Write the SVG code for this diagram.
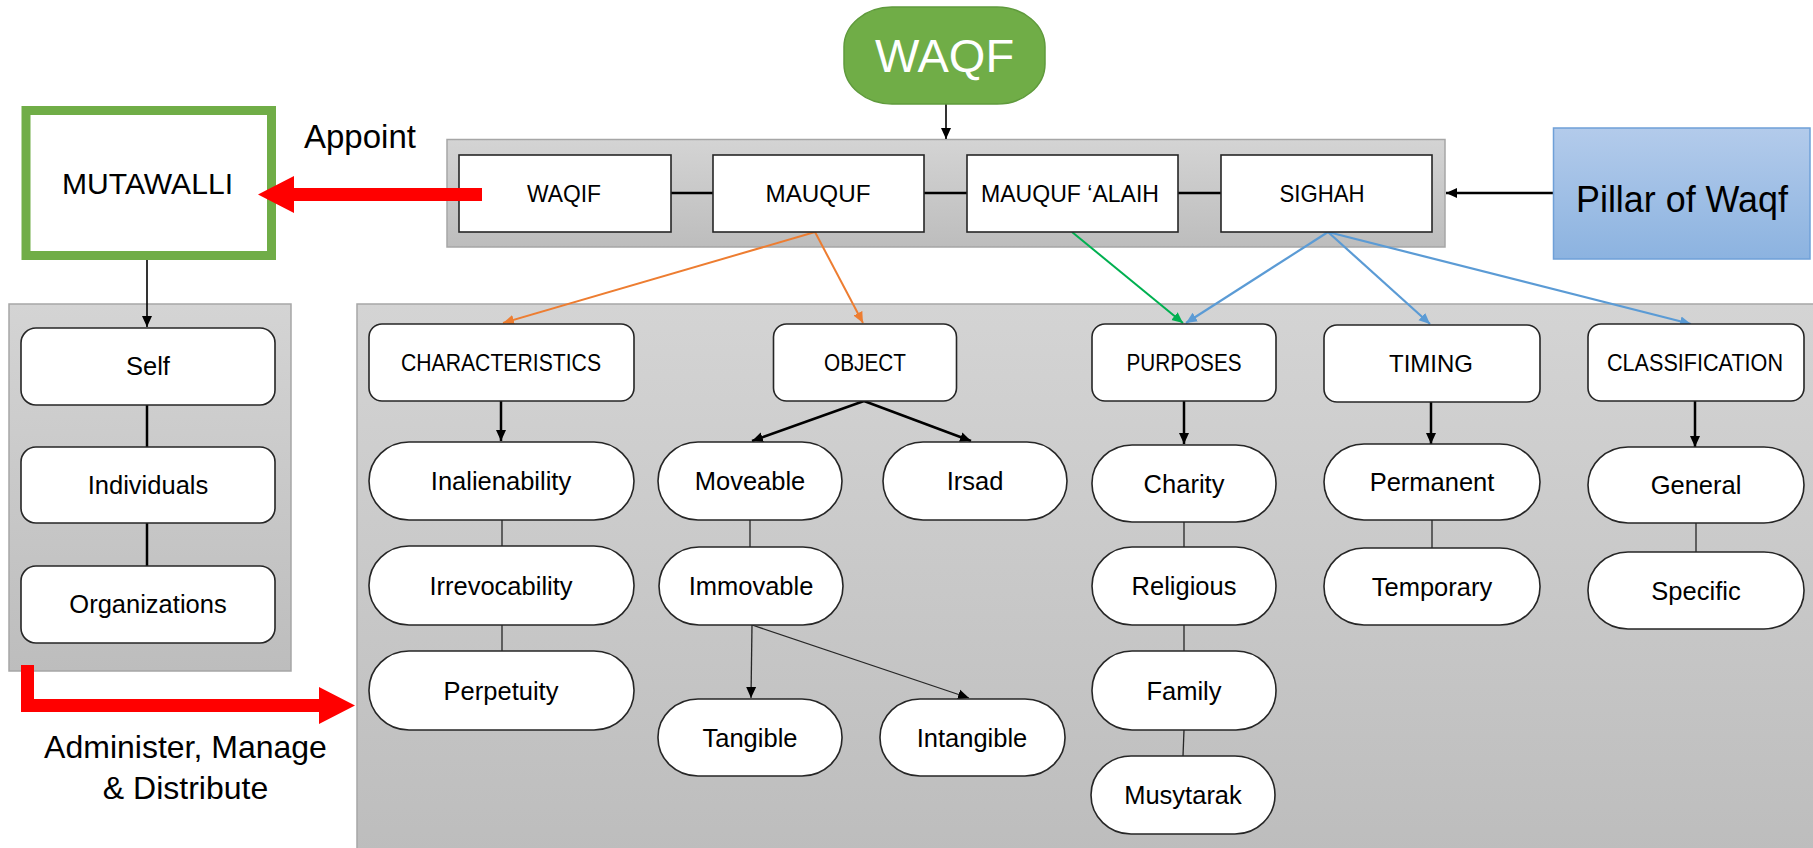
<svg xmlns="http://www.w3.org/2000/svg" width="1813" height="848" viewBox="0 0 1813 848">
<defs>
<linearGradient id="gray" x1="0" y1="0" x2="0" y2="1"><stop offset="0" stop-color="#d4d4d4"/><stop offset="1" stop-color="#bdbdbd"/></linearGradient>
<linearGradient id="blue" x1="0" y1="0" x2="0" y2="1"><stop offset="0" stop-color="#b3cbeb"/><stop offset="1" stop-color="#8cb3e0"/></linearGradient>
<marker id="ak" markerUnits="userSpaceOnUse" markerWidth="12" markerHeight="12" refX="11" refY="6" orient="auto"><path d="M0,1 L11,6 L0,11 z" fill="#000"/></marker>
<marker id="ao" markerUnits="userSpaceOnUse" markerWidth="12" markerHeight="12" refX="11" refY="6" orient="auto"><path d="M0,1 L11,6 L0,11 z" fill="#ed7d31"/></marker>
<marker id="ag" markerUnits="userSpaceOnUse" markerWidth="12" markerHeight="12" refX="11" refY="6" orient="auto"><path d="M0,1 L11,6 L0,11 z" fill="#00b050"/></marker>
<marker id="ab" markerUnits="userSpaceOnUse" markerWidth="12" markerHeight="12" refX="11" refY="6" orient="auto"><path d="M0,1 L11,6 L0,11 z" fill="#5b9bd5"/></marker>
</defs>
<style>
text{font-family:"Liberation Sans",Arial,sans-serif;fill:#000;text-anchor:middle}
.t{font-size:24px}
.n{font-size:25.5px}
.box{fill:#fff;stroke:#262626;stroke-width:1.6}
.pan{fill:url(#gray);stroke:#a6a6a6;stroke-width:1.5}
.thin{stroke:#262626;stroke-width:1.3;fill:none}
.mid{stroke:#000;stroke-width:2.5;fill:none}
.big{font-size:32px}
</style>

<rect id="panel-top" class="pan" x="447" y="139.5" width="998" height="107.5"/>
<rect id="panel-left" class="pan" x="9" y="304" width="282" height="367"/>
<rect id="panel-main" class="pan" x="357" y="304" width="1458" height="550"/>

<g id="connectors">
<line class="mid" x1="671" y1="193" x2="713" y2="193"/>
<line class="mid" x1="924" y1="193" x2="967" y2="193"/>
<line class="mid" x1="1178" y1="193" x2="1221" y2="193"/>
<line x1="946" y1="104" x2="946" y2="139" stroke="#000" stroke-width="1.6" marker-end="url(#ak)"/>
<line x1="1554" y1="193" x2="1446" y2="193" stroke="#000" stroke-width="2.5" marker-end="url(#ak)"/>
<line x1="147" y1="260" x2="147" y2="327" stroke="#000" stroke-width="1.6" marker-end="url(#ak)"/>
<line x1="815" y1="232" x2="503" y2="323" stroke="#ed7d31" stroke-width="2" marker-end="url(#ao)"/>
<line x1="815" y1="232" x2="863" y2="323" stroke="#ed7d31" stroke-width="2" marker-end="url(#ao)"/>
<line x1="1072" y1="232" x2="1183" y2="323" stroke="#00b050" stroke-width="2" marker-end="url(#ag)"/>
<line x1="1328" y1="232" x2="1186" y2="323" stroke="#5b9bd5" stroke-width="2.2" marker-end="url(#ab)"/>
<line x1="1328" y1="232" x2="1430" y2="324" stroke="#5b9bd5" stroke-width="2.2" marker-end="url(#ab)"/>
<line x1="1328" y1="232" x2="1691" y2="324" stroke="#5b9bd5" stroke-width="2.2" marker-end="url(#ab)"/>
<line class="mid" x1="147" y1="405" x2="147" y2="447"/>
<line class="mid" x1="147" y1="523" x2="147" y2="566"/>
<line x1="501" y1="401" x2="501" y2="441" stroke="#000" stroke-width="2.5" marker-end="url(#ak)"/>
<line x1="864" y1="401" x2="752" y2="441" stroke="#000" stroke-width="2.5" marker-end="url(#ak)"/>
<line x1="864" y1="401" x2="971" y2="441" stroke="#000" stroke-width="2.5" marker-end="url(#ak)"/>
<line x1="1184" y1="401" x2="1184" y2="444" stroke="#000" stroke-width="2.5" marker-end="url(#ak)"/>
<line x1="1431" y1="402" x2="1431" y2="444" stroke="#000" stroke-width="2.5" marker-end="url(#ak)"/>
<line x1="1695" y1="401" x2="1695" y2="447" stroke="#000" stroke-width="2.5" marker-end="url(#ak)"/>
<line class="thin" x1="502" y1="520" x2="502" y2="546"/>
<line class="thin" x1="502" y1="625" x2="502" y2="651"/>
<line class="thin" x1="750" y1="520" x2="750" y2="547"/>
<line class="thin" x1="1184" y1="522" x2="1184" y2="547"/>
<line class="thin" x1="1184" y1="625" x2="1184" y2="651"/>
<line class="thin" x1="1184" y1="730" x2="1183" y2="756"/>
<line class="thin" x1="1432" y1="520" x2="1432" y2="548"/>
<line class="thin" x1="1696" y1="523" x2="1696" y2="552"/>
<line class="thin" x1="752" y1="625" x2="751" y2="698" marker-end="url(#ak)"/>
<line class="thin" x1="752" y1="625" x2="969" y2="698" marker-end="url(#ak)"/>
</g>

<g id="waqf"><rect x="844" y="7" width="201" height="97" rx="48" ry="40" fill="#70ad47" stroke="#5f9a3c" stroke-width="1.5"/><text x="944.5" y="72" style="font-size:47px;fill:#fff">WAQF</text></g>
<g id="pillar"><rect x="1553.5" y="128" width="256.5" height="131" fill="url(#blue)" stroke="#6fa0d8" stroke-width="1.5"/><text x="1682" y="212" style="font-size:36px" textLength="212" lengthAdjust="spacingAndGlyphs">Pillar of Waqf</text></g>
<g id="mutawalli"><rect x="26" y="110.5" width="245.5" height="145" fill="#fff" stroke="#70ad47" stroke-width="9"/><text x="147.5" y="194" style="font-size:29.5px" textLength="171" lengthAdjust="spacingAndGlyphs">MUTAWALLI</text></g>

<g id="waqif"><rect class="box" x="459" y="155" width="212" height="77"/><text class="t" x="564" y="202" textLength="74" lengthAdjust="spacingAndGlyphs">WAQIF</text></g>
<g id="mauquf"><rect class="box" x="713" y="155" width="211" height="77"/><text class="t" x="818" y="202" textLength="105" lengthAdjust="spacingAndGlyphs">MAUQUF</text></g>
<g id="mauquf-alaih"><rect class="box" x="967" y="155" width="211" height="77"/><text class="t" x="1070" y="202" textLength="178" lengthAdjust="spacingAndGlyphs">MAUQUF ‘ALAIH</text></g>
<g id="sighah"><rect class="box" x="1221" y="155" width="211" height="77"/><text class="t" x="1322" y="202" textLength="85" lengthAdjust="spacingAndGlyphs">SIGHAH</text></g>

<g id="appoint-arrow"><polygon points="482,188 294,188 294,176 258,194.5 294,213 294,201 482,201" fill="#ff0000"/><text x="304" y="148" style="font-size:33px;text-anchor:start">Appoint</text></g>

<g id="self"><rect class="box" x="21" y="328" width="254" height="77" rx="15"/><text class="n" x="148" y="375">Self</text></g>
<g id="individuals"><rect class="box" x="21" y="447" width="254" height="76" rx="15"/><text class="n" x="148" y="494">Individuals</text></g>
<g id="organizations"><rect class="box" x="21" y="566" width="254" height="77" rx="15"/><text class="n" x="148" y="613">Organizations</text></g>

<g id="administer-arrow"><polygon points="21,665 34,665 34,699 319,699 319,687 355,705.5 319,724 319,712 21,712" fill="#ff0000"/><text class="big" x="185.5" y="758">Administer, Manage</text><text class="big" x="185.5" y="799">&amp; Distribute</text></g>

<g id="characteristics"><rect class="box" x="369" y="324" width="265" height="77" rx="13"/><text class="t" x="501" y="371" textLength="200" lengthAdjust="spacingAndGlyphs">CHARACTERISTICS</text></g>
<g id="object"><rect class="box" x="773.5" y="324" width="183" height="77" rx="13"/><text class="t" x="865" y="371" textLength="82" lengthAdjust="spacingAndGlyphs">OBJECT</text></g>
<g id="purposes"><rect class="box" x="1092" y="324" width="184" height="77" rx="13"/><text class="t" x="1184" y="371" textLength="115" lengthAdjust="spacingAndGlyphs">PURPOSES</text></g>
<g id="timing"><rect class="box" x="1324" y="325" width="216" height="77" rx="13"/><text class="t" x="1431" y="372" textLength="84" lengthAdjust="spacingAndGlyphs">TIMING</text></g>
<g id="classification"><rect class="box" x="1588" y="324" width="216" height="77" rx="13"/><text class="t" x="1695" y="371" textLength="176" lengthAdjust="spacingAndGlyphs">CLASSIFICATION</text></g>

<g id="inalienability"><rect class="box" x="369" y="442" width="265" height="78" rx="40" ry="39"/><text class="n" x="501" y="490">Inalienability</text></g>
<g id="irrevocability"><rect class="box" x="369" y="546" width="265" height="79" rx="40" ry="39"/><text class="n" x="501" y="595">Irrevocability</text></g>
<g id="perpetuity"><rect class="box" x="369" y="651" width="265" height="79" rx="40" ry="39"/><text class="n" x="501" y="700">Perpetuity</text></g>

<g id="moveable"><rect class="box" x="658" y="442" width="184" height="78" rx="40" ry="39"/><text class="n" x="750" y="490">Moveable</text></g>
<g id="irsad"><rect class="box" x="883" y="442" width="184" height="78" rx="40" ry="39"/><text class="n" x="975" y="490">Irsad</text></g>
<g id="immovable"><rect class="box" x="659" y="547" width="184" height="78" rx="40" ry="39"/><text class="n" x="751" y="595">Immovable</text></g>
<g id="tangible"><rect class="box" x="658" y="699" width="184" height="77" rx="40" ry="38"/><text class="n" x="750" y="747">Tangible</text></g>
<g id="intangible"><rect class="box" x="880" y="699" width="185" height="77" rx="40" ry="38"/><text class="n" x="972" y="747">Intangible</text></g>

<g id="charity"><rect class="box" x="1092" y="445" width="184" height="77" rx="40" ry="38"/><text class="n" x="1184" y="493">Charity</text></g>
<g id="religious"><rect class="box" x="1092" y="547" width="184" height="78" rx="40" ry="39"/><text class="n" x="1184" y="595">Religious</text></g>
<g id="family"><rect class="box" x="1092" y="651" width="184" height="79" rx="40" ry="39"/><text class="n" x="1184" y="700">Family</text></g>
<g id="musytarak"><rect class="box" x="1091" y="756" width="184" height="78" rx="40" ry="39"/><text class="n" x="1183" y="804">Musytarak</text></g>

<g id="permanent"><rect class="box" x="1324" y="444" width="216" height="76" rx="40" ry="38"/><text class="n" x="1432" y="491">Permanent</text></g>
<g id="temporary"><rect class="box" x="1324" y="548" width="216" height="77" rx="40" ry="38"/><text class="n" x="1432" y="596">Temporary</text></g>
<g id="general"><rect class="box" x="1588" y="447" width="216" height="76" rx="40" ry="38"/><text class="n" x="1696" y="494">General</text></g>
<g id="specific"><rect class="box" x="1588" y="552" width="216" height="77" rx="40" ry="38"/><text class="n" x="1696" y="600">Specific</text></g>
</svg>
